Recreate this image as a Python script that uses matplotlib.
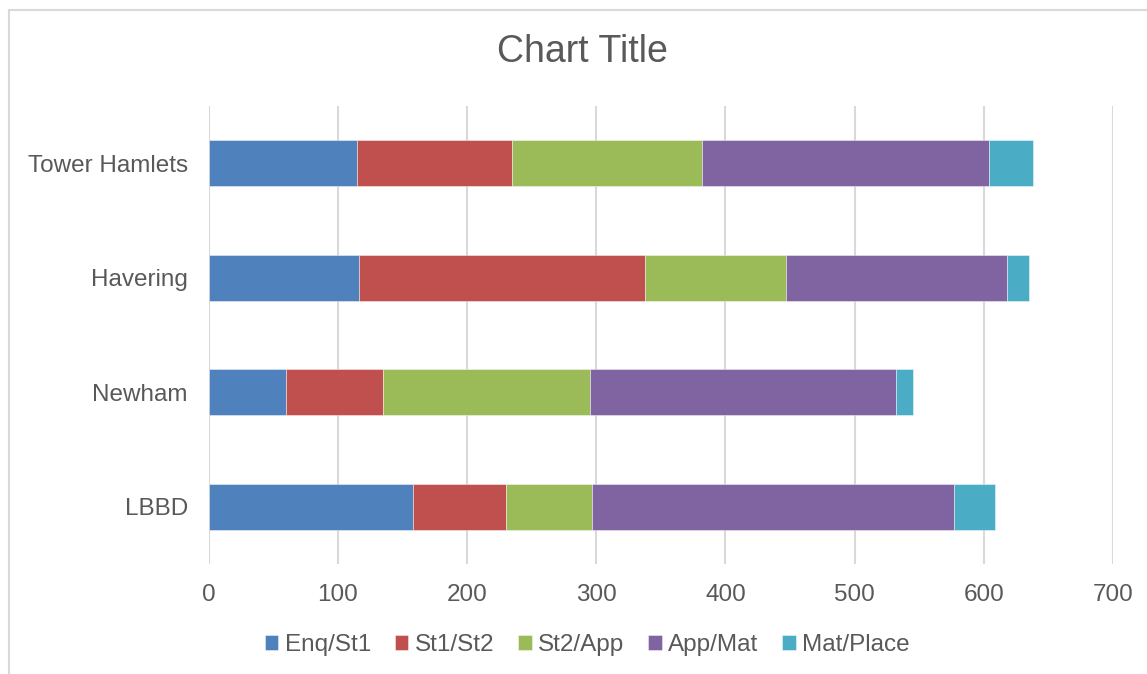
import matplotlib
matplotlib.use("Agg")
import matplotlib.pyplot as plt
from matplotlib.patches import Rectangle
import numpy as np

plt.rcParams['font.family'] = ['Liberation Sans', 'DejaVu Sans']

# boroughs, bottom to top as drawn
boroughs = ["LBBD", "Newham", "Havering", "Tower Hamlets"]
stages = ["Enq/St1", "St1/St2", "St2/App", "App/Mat", "Mat/Place"]

enq_st1 = [158, 60, 116, 115]
st1_st2 = [72, 75, 222, 120]
st2_app = [67, 160, 109, 147]
app_mat = [280, 237, 171, 222]
mat_place = [32, 13, 17, 34]

colors = ["#4F81BD", "#C0504D", "#9BBB59", "#8064A2", "#4BACC6"]
text_col = "#595959"
grid_col = "#D9D9D9"

fig = plt.figure(figsize=(11.47, 6.74), dpi=100)
# light chart-area border (runs off the right and bottom edges)
fig.patches.append(Rectangle((9 / 1147, -0.02), 1.05, 1 - 10 / 674 + 0.02,
                             transform=fig.transFigure, fill=False,
                             edgecolor=grid_col, linewidth=1.5))

ax = fig.add_axes([0.1820, 0.1628, 0.7884, 0.6804])

y = np.arange(len(boroughs))
left = np.zeros(len(boroughs))
for name, vals, c in zip(stages, [enq_st1, st1_st2, st2_app, app_mat, mat_place], colors):
    ax.barh(y, vals, left=left, height=0.4, color=c, label=name,
            edgecolor=(1, 1, 1, 0.5), linewidth=0.6, zorder=3)
    left += np.array(vals)

ax.set_xlim(0, 700)
ax.set_ylim(-0.5, len(boroughs) - 0.5)
ax.set_xticks(range(0, 701, 100))
ax.set_yticks(y)
ax.set_yticklabels(boroughs)
ax.grid(axis="x", color=grid_col, linewidth=1.5, zorder=0)
ax.grid(axis="y", visible=False)
for s in ax.spines.values():
    s.set_visible(False)
ax.tick_params(axis="both", length=0, labelsize=17.5, labelcolor=text_col)
ax.tick_params(axis="x", pad=14)
ax.tick_params(axis="y", pad=15)

fig.text(0.508, 1 - 52 / 674, "Chart Title", ha="center", va="center",
         fontsize=27, color=text_col)

handles, labels = ax.get_legend_handles_labels()
leg = fig.legend(handles, labels, loc="center", bbox_to_anchor=(0.512, 1 - 645 / 674),
                 ncol=5, frameon=False, fontsize=17.5, handlelength=0.55,
                 handleheight=0.55, handletextpad=0.25, columnspacing=1.0)
for t in leg.get_texts():
    t.set_color(text_col)

fig.savefig("out.png", dpi=100)
